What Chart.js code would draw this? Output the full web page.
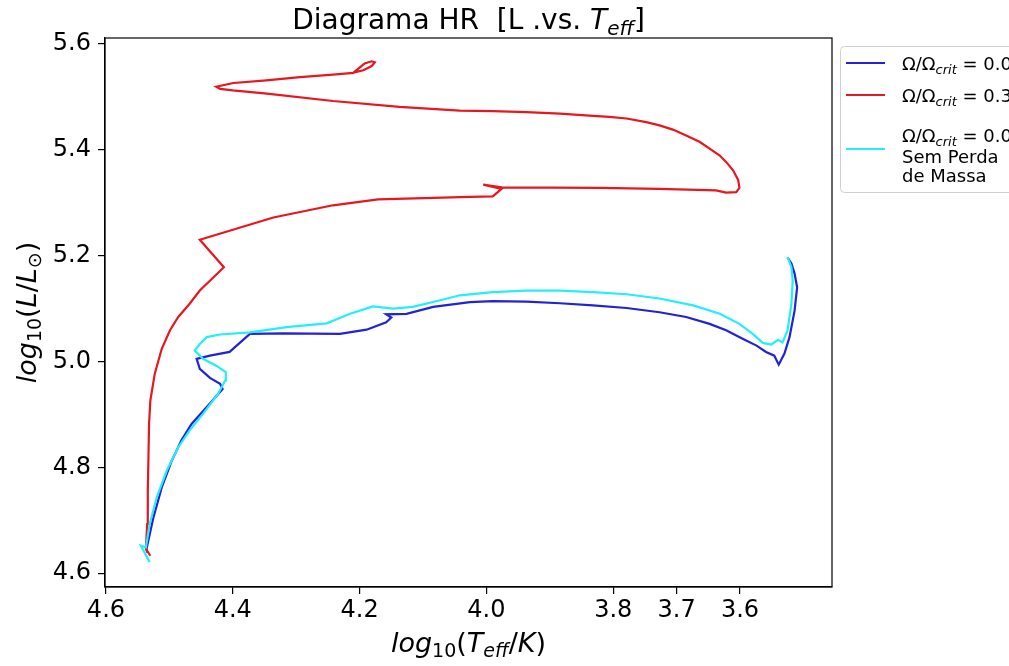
<!DOCTYPE html>
<html>
<head>
<meta charset="utf-8">
<script src="https://cdn.jsdelivr.net/npm/chart.js@4.4.1/dist/chart.umd.min.js"></script>
<style>
  html, body { margin: 0; padding: 0; background: #fff; }
</style>
</head>
<body>
<canvas id="hr" width="1009" height="666"></canvas>
<script>
// log10(Teff) and log10(L/Lsun) read off the tracks
// Omega/Omega_crit = 0.0
const teffRot0 = [4.535, 4.536, 4.525, 4.512, 4.496, 4.481, 4.465, 4.441, 4.416, 4.420, 4.436, 4.452, 4.457, 4.436, 4.405, 4.373, 4.321, 4.231, 4.189, 4.158, 4.150, 4.158, 4.126, 4.084, 4.026,
    3.990, 3.937, 3.884, 3.832, 3.779, 3.727, 3.685, 3.648, 3.622, 3.596, 3.574, 3.559, 3.546, 3.539, 3.530, 3.522, 3.514, 3.510, 3.514, 3.519, 3.525];
const lumRot0 = [4.639, 4.646, 4.706, 4.762, 4.813, 4.851, 4.882, 4.914, 4.948, 4.958, 4.969, 4.986, 5.005, 5.011, 5.018, 5.052, 5.053, 5.052, 5.060, 5.074, 5.083, 5.089, 5.090, 5.103, 5.112,
    5.114, 5.113, 5.110, 5.106, 5.101, 5.093, 5.084, 5.071, 5.059, 5.043, 5.030, 5.018, 5.011, 4.994, 5.015, 5.046, 5.096, 5.140, 5.166, 5.185, 5.196];

// Omega/Omega_crit = 0.3
const teffRot3 = [4.530, 4.537, 4.535, 4.534, 4.533, 4.532, 4.530, 4.523, 4.512, 4.499, 4.486, 4.468, 4.452, 4.414, 4.452, 4.336, 4.242, 4.171, 4.026, 3.990, 3.976, 4.005, 3.976,
    3.821, 3.727, 3.638, 3.622, 3.606, 3.601, 3.603, 3.611, 3.622, 3.632, 3.648, 3.664, 3.685, 3.706, 3.727, 3.748, 3.779, 3.806, 3.832, 3.884, 3.937, 3.990, 4.042,
    4.137, 4.242, 4.346, 4.400, 4.420, 4.426, 4.399, 4.347, 4.294, 4.242, 4.210, 4.202, 4.192, 4.181, 4.176, 4.181, 4.194, 4.208];
const lumRot3 = [4.633, 4.646, 4.693, 4.756, 4.819, 4.882, 4.926, 4.977, 5.024, 5.059, 5.084, 5.109, 5.134, 5.178, 5.230, 5.272, 5.295, 5.306, 5.311, 5.312, 5.326, 5.334, 5.329,
    5.328, 5.326, 5.323, 5.319, 5.320, 5.328, 5.343, 5.361, 5.377, 5.389, 5.402, 5.415, 5.427, 5.438, 5.446, 5.452, 5.459, 5.462, 5.464, 5.468, 5.471, 5.473, 5.474,
    5.481, 5.492, 5.506, 5.512, 5.515, 5.519, 5.526, 5.531, 5.537, 5.542, 5.545, 5.553, 5.563, 5.567, 5.565, 5.558, 5.550, 5.546];

// Omega/Omega_crit = 0.0, no mass loss
const teffNoLoss = [4.531, 4.545, 4.537, 4.531, 4.520, 4.504, 4.486, 4.468, 4.447, 4.423, 4.412, 4.411, 4.426, 4.447, 4.460, 4.452, 4.441, 4.420, 4.373, 4.315, 4.252, 4.215, 4.179, 4.147, 4.116, 4.068,
    4.042, 3.990, 3.937, 3.884, 3.832, 3.779, 3.727, 3.674, 3.632, 3.601, 3.580, 3.564, 3.551, 3.540, 3.533, 3.525, 3.519, 3.517, 3.519, 3.525];
const lumNoLoss = [4.621, 4.652, 4.649, 4.693, 4.743, 4.794, 4.838, 4.870, 4.901, 4.939, 4.964, 4.980, 4.992, 5.005, 5.021, 5.033, 5.046, 5.051, 5.055, 5.065, 5.072, 5.090, 5.104, 5.100, 5.103, 5.117,
    5.125, 5.131, 5.134, 5.134, 5.131, 5.127, 5.119, 5.106, 5.090, 5.071, 5.052, 5.035, 5.032, 5.041, 5.036, 5.059, 5.109, 5.153, 5.178, 5.197];

const xTickVals = [4.6, 4.4, 4.2, 4.0, 3.8, 3.7, 3.6];
const yTickVals = [4.6, 4.8, 5.0, 5.2, 5.4, 5.6];

const BLUE = '#2222d6';
const RED = '#e8161e';
const CYAN = '#22eefc';
const FONT = "'DejaVu Sans'";

function pts(xs, ys) {
    return xs.map((x, i) => ({ x: x, y: ys[i] }));
}

// text made of pieces, some italic and/or subscript (mathtext look)
function fontFor(p, size) {
    const s = p.sub ? Math.round(size * 0.7) : size;
    return (p.it ? 'italic ' : '') + s + 'px ' + FONT;
}
function richWidth(ctx, parts, size) {
    let w = 0;
    parts.forEach(p => { ctx.font = fontFor(p, size); w += ctx.measureText(p.t).width; });
    return w;
}
function drawRich(ctx, parts, x, y, size, align) {
    const w = richWidth(ctx, parts, size);
    let cx = align === 'center' ? x - w / 2 : x;
    ctx.textAlign = 'left';
    ctx.textBaseline = 'alphabetic';
    parts.forEach(p => {
        ctx.font = fontFor(p, size);
        ctx.fillText(p.t, cx, y + (p.sub ? size * 0.2 : 0));
        cx += ctx.measureText(p.t).width;
    });
}

const decorations = {
    id: 'decorations',
    afterDraw(chart) {
        const ctx = chart.ctx;
        const a = chart.chartArea;
        ctx.save();
        ctx.strokeStyle = '#000';
        ctx.lineWidth = 1.2;
        ctx.strokeRect(a.left, a.top, a.right - a.left, a.bottom - a.top);
        ctx.fillStyle = '#000';

        // title
        drawRich(ctx, [
            { t: 'Diagrama HR  [L .vs. ' },
            { t: 'T', it: true },
            { t: 'eff', it: true, sub: true },
            { t: ']' }
        ], (a.left + a.right) / 2, 29, 28, 'center');

        // x axis title
        drawRich(ctx, [
            { t: 'log', it: true }, { t: '10', sub: true },
            { t: '(' }, { t: 'T', it: true }, { t: 'eff', it: true, sub: true },
            { t: '/' }, { t: 'K', it: true }, { t: ')' }
        ], (a.left + a.right) / 2, 652, 27, 'center');

        // y axis title
        ctx.save();
        ctx.translate(36, (a.top + a.bottom) / 2);
        ctx.rotate(-Math.PI / 2);
        drawRich(ctx, [
            { t: 'log', it: true }, { t: '10', sub: true },
            { t: '(' }, { t: 'L', it: true }, { t: '/' }, { t: 'L', it: true },
            { t: '\u2299', sub: true }, { t: ')' }
        ], 0, 0, 27, 'center');
        ctx.restore();

        // legend
        const lx = 840.5, ly = 46.5;
        ctx.beginPath();
        ctx.roundRect(lx, ly, 200, 146, 4);
        ctx.fillStyle = 'rgba(255,255,255,0.8)';
        ctx.fill();
        ctx.strokeStyle = '#d0d0d0';
        ctx.lineWidth = 1;
        ctx.stroke();

        const omega = [{ t: '\u03A9/\u03A9' }, { t: 'crit', it: true, sub: true }, { t: ' = 0.0' }];
        const omega3 = [{ t: '\u03A9/\u03A9' }, { t: 'crit', it: true, sub: true }, { t: ' = 0.3' }];
        const rows = [
            { color: chart.data.datasets[0].borderColor, lineY: 63, lines: [[omega, 70]] },
            { color: chart.data.datasets[1].borderColor, lineY: 95, lines: [[omega3, 102]] },
            { color: chart.data.datasets[2].borderColor, lineY: 149,
              lines: [[omega, 142], [[{ t: 'Sem Perda' }], 163], [[{ t: 'de Massa' }], 182]] }
        ];
        rows.forEach(r => {
            ctx.strokeStyle = r.color;
            ctx.lineWidth = 2.2;
            ctx.beginPath();
            ctx.moveTo(846, r.lineY);
            ctx.lineTo(885, r.lineY);
            ctx.stroke();
            ctx.fillStyle = '#000';
            r.lines.forEach(l => drawRich(ctx, l[0], 902, l[1], 18, 'left'));
        });
        ctx.restore();
    }
};

const tickFont = { family: FONT, size: 24 };

new Chart(document.getElementById('hr'), {
    type: 'scatter',
    data: {
        datasets: [
            { label: '\u03A9/\u03A9crit = 0.0', data: pts(teffRot0, lumRot0), borderColor: BLUE, order: 3 },
            { label: '\u03A9/\u03A9crit = 0.3', data: pts(teffRot3, lumRot3), borderColor: RED, order: 2 },
            { label: '\u03A9/\u03A9crit = 0.0 Sem Perda de Massa', data: pts(teffNoLoss, lumNoLoss), borderColor: CYAN, order: 1 }
        ].map(d => Object.assign(d, { showLine: true, pointRadius: 0, borderWidth: 2.2, fill: false, tension: 0 }))
    },
    options: {
        responsive: false,
        animation: false,
        layout: { padding: { left: 0, top: 38, right: 177, bottom: 0 } },
        plugins: {
            legend: { display: false },
            tooltip: { enabled: false },
            title: { display: false }
        },
        scales: {
            x: {
                type: 'linear',
                reverse: true,
                min: 3.455,
                max: 4.6015,
                afterBuildTicks: s => { s.ticks = xTickVals.map(v => ({ value: v })); },
                afterFit: s => { s.height = 79; },
                ticks: { color: '#000', font: tickFont, padding: 2, maxRotation: 0, autoSkip: false,
                         callback: v => v.toFixed(1) },
                grid: { drawOnChartArea: false, tickLength: 7, color: '#000', tickColor: '#000', lineWidth: 1.2 },
                border: { color: '#000', width: 1.2 }
            },
            y: {
                type: 'linear',
                min: 4.574,
                max: 5.611,
                afterBuildTicks: s => { s.ticks = yTickVals.map(v => ({ value: v })); },
                afterFit: s => { s.width = 105; },
                ticks: { color: '#000', font: tickFont, padding: 7, autoSkip: false,
                         callback: v => v.toFixed(1) },
                grid: { drawOnChartArea: false, tickLength: 7, color: '#000', tickColor: '#000', lineWidth: 1.2 },
                border: { color: '#000', width: 1.2 }
            }
        }
    },
    plugins: [decorations]
});
</script>
</body>
</html>
